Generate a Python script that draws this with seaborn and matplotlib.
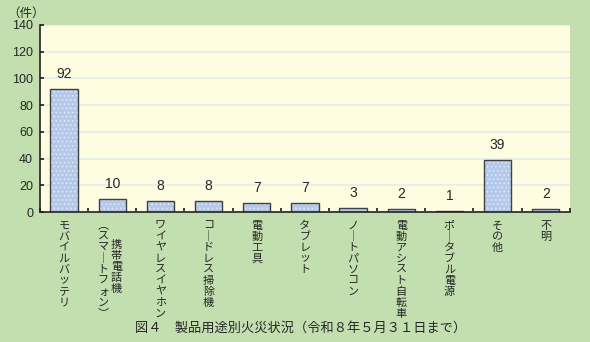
import matplotlib
matplotlib.use("Agg")
import matplotlib.pyplot as plt
from matplotlib.patches import Rectangle
import seaborn as sns
import pandas as pd
import numpy as np

categories = ["モバイルバッテリ", "携帯電話機（スマートフォン）", "ワイヤレスイヤホン", "コードレス掃除機",
              "電動工具", "タブレット", "ノートパソコン", "電動アシスト自転車", "ポータブル電源", "その他", "不明"]
values = [92, 10, 8, 8, 7, 7, 3, 2, 1, 39, 2]
yticks = [0, 20, 40, 60, 80, 100, 120, 140]
title = "図４　製品用途別火災状況（令和８年５月３１日まで）"
unit = "（件）"

sns.set_theme(style="white")
plt.rcParams['font.family'] = ['Noto Sans CJK JP', 'DejaVu Sans']
plt.rcParams['hatch.linewidth'] = 0.6

GREEN = "#c3dfb0"
fig = plt.figure(figsize=(5.9, 3.42), dpi=100, facecolor=GREEN)
ax = fig.add_axes([0.0678, 0.380, 0.898, 0.547])
ax.set_facecolor("#fffde1")

df = pd.DataFrame({"cat": categories, "val": values})
sns.barplot(data=df, x="cat", y="val", ax=ax, color="#b4c8ea", width=0.57,
            edgecolor="#e4ebf8", linewidth=0, saturation=1)
for p in list(ax.patches):
    p.set_hatch('....')
    ax.add_patch(Rectangle(p.get_xy(), p.get_width(), p.get_height(), fill=False,
                           edgecolor="#404040", linewidth=1.0, zorder=p.get_zorder() + 0.1))

NUMFONT = ['Liberation Sans', 'DejaVu Sans']
ax.set_ylim(0, 140)
ax.set_yticks(yticks)
ax.set_yticklabels([str(t) for t in yticks], fontsize=9, family=NUMFONT)
ax.yaxis.grid(True, color="#e6ecec", linewidth=1.2)
ax.set_axisbelow(True)
ax.set_xlim(-0.5, len(categories) - 0.5)
ax.set_xticks(np.arange(len(categories) + 1) - 0.5)
ax.set_xticklabels([])
ax.tick_params(axis='x', direction='in', length=3, bottom=True, color="#222222")
ax.tick_params(axis='y', direction='in', length=3, left=True, color="#222222", pad=5)
for s in ["top", "right"]:
    ax.spines[s].set_visible(False)
for s in ["left", "bottom"]:
    ax.spines[s].set_color("#222222")
    ax.spines[s].set_linewidth(1.2)
ax.set_xlabel("")
ax.set_ylabel("")

for i, v in enumerate(values):
    ax.text(i, v + 6, str(v), ha='center', va='bottom', fontsize=10, family=NUMFONT)

vmap = {"ー": "｜", "（": "︵", "）": "︶"}
STEP = 11.0   # pixels per character
TOP = 8.0     # pixels below axis
FS = 8.0
trans = matplotlib.transforms.blended_transform_factory(ax.transData, ax.transAxes)

def vcol(x, s, dx=0.0, start=0.0):
    for k, ch in enumerate(s):
        ax.annotate(vmap.get(ch, ch), xy=(x, 0), xycoords=trans,
                    xytext=(dx, -TOP - STEP * (k + start + 0.5)), textcoords='offset pixels',
                    ha='center', va='center', fontsize=FS, annotation_clip=False)

for i, c in enumerate(categories):
    if "（" in c:
        main, sub = c.split("（")
        vcol(i, main, dx=4, start=1.8)
        vcol(i, "（" + sub, dx=-9, start=0)
    else:
        vcol(i, c)

fig.text(0.51, 0.04, title, ha='center', va='center', fontsize=9.5)
fig.text(0.012, 0.962, unit, ha='left', va='center', fontsize=9)

fig.savefig("out.png", dpi=100, facecolor=GREEN)
